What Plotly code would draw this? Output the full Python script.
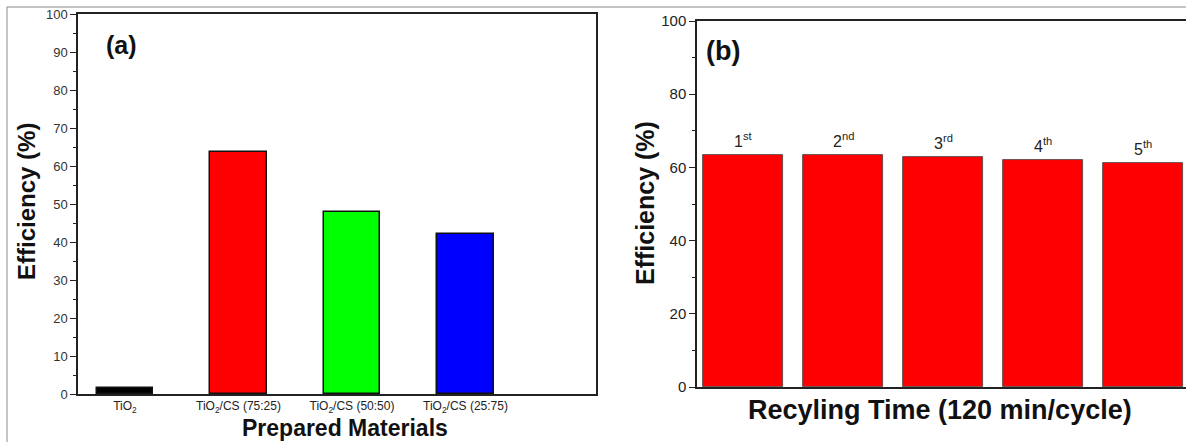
import plotly.graph_objects as go

# Panel (a): photocatalytic efficiency of the prepared materials
materials = ["TiO<sub>2</sub>", "TiO<sub>2</sub>/CS (75:25)", "TiO<sub>2</sub>/CS (50:50)", "TiO<sub>2</sub>/CS (25:75)"]
material_eff = [1.6, 63.6, 48.0, 42.2]
material_colors = ["#000000", "#FF0000", "#00FF00", "#0000FF"]

# Panel (b): efficiency over repeated recycling runs
cycles = ["1<sup>st</sup>", "2<sup>nd</sup>", "3<sup>rd</sup>", "4<sup>th</sup>", "5<sup>th</sup>"]
cycle_eff = [63.4, 63.3, 62.8, 62.0, 61.2]

W, H = 1186, 442
FONT = "Liberation Sans, Arial, sans-serif"


def fx(px):
    return px / W


def fy(px):
    return 1 - px / H


xa_pos = list(range(len(materials)))
xb_pos = list(range(len(cycles)))

fig = go.Figure()

fig.add_trace(go.Bar(
    x=xa_pos, y=material_eff, width=0.5,
    marker=dict(color=material_colors, line=dict(color="#111111", width=1.5)),
    xaxis="x", yaxis="y", showlegend=False,
))

fig.add_trace(go.Bar(
    x=xb_pos, y=cycle_eff, width=0.8,
    marker=dict(color="#FF0000", line=dict(color="#444444", width=0.8)),
    xaxis="x2", yaxis="y2", showlegend=False,
))

axis_line = dict(showline=True, linecolor="#222222", linewidth=1.5, showgrid=False, zeroline=False)

fig.update_layout(
    width=W, height=H, autosize=False,
    margin=dict(l=0, r=0, t=0, b=0, pad=0, autoexpand=False),
    paper_bgcolor="white", plot_bgcolor="white",
    font=dict(family=FONT, color="#222222"),
    bargap=0,
    xaxis=dict(
        domain=[fx(78), fx(596)], range=[-0.414, 4.15],
        tickvals=xa_pos, ticktext=materials, ticks="",
        tickfont=dict(size=12, color="#222222"),
        mirror=True, anchor="y", automargin=False, **axis_line,
    ),
    yaxis=dict(
        domain=[fy(394), fy(14)], range=[0, 100],
        tickvals=list(range(0, 101, 10)), ticks="outside", ticklen=6, tickwidth=1.2,
        tickcolor="#222222",
        minor=dict(dtick=5, ticks="outside", ticklen=3, tickcolor="#222222"),
        tickfont=dict(size=13, color="#333333"),
        mirror=True, anchor="x", automargin=False, **axis_line,
    ),
    xaxis2=dict(
        domain=[fx(697), 1.0], range=[-0.46, 4.43],
        showticklabels=False, ticks="",
        mirror=True, anchor="y2", automargin=False, **axis_line,
    ),
    yaxis2=dict(
        domain=[fy(387), fy(21)], range=[0, 100],
        tickvals=list(range(0, 101, 20)), ticks="outside", ticklen=6, tickwidth=1.2,
        tickcolor="#222222",
        minor=dict(dtick=10, ticks="outside", ticklen=3, tickcolor="#222222"),
        tickfont=dict(size=15, color="#222222"),
        anchor="x2", automargin=False, **axis_line,
    ),
)


def label(text, x, y, size, angle=0, xanchor="center"):
    return dict(text=text, xref="paper", yref="paper", x=fx(x), y=fy(y),
                xanchor=xanchor, yanchor="middle", textangle=angle, showarrow=False,
                font=dict(size=size, color="#111111"))


annotations = [
    label("<b>(a)</b>", 104, 45, 25, xanchor="left"),
    label("<b>(b)</b>", 704, 51, 27, xanchor="left"),
    label("<b>Efficiency (%)</b>", 27, 202, 24, angle=-90),
    label("<b>Efficiency (%)</b>", 645, 203, 25, angle=-90),
    label("<b>Prepared Materials</b>", 345, 428, 23),
    label("<b>Recyling Time (120 min/cycle)</b>", 940, 410, 27),
]

for xi, text, val in zip(xb_pos, cycles, cycle_eff):
    annotations.append(dict(
        text=text, x=xi, y=val, xref="x2", yref="y2", xanchor="center", yanchor="bottom", yshift=3,
        showarrow=False, font=dict(size=16, color="#222222"),
    ))

fig.update_layout(annotations=annotations)

# thin outer frame along the top and left edges
fig.add_shape(type="line", xref="paper", yref="paper", x0=fx(7), x1=1.0, y0=fy(7), y1=fy(7),
              line=dict(color="#888888", width=1))
fig.add_shape(type="line", xref="paper", yref="paper", x0=fx(7), x1=fx(7), y0=0, y1=fy(7),
              line=dict(color="#888888", width=1))

fig.write_html("out.html")
